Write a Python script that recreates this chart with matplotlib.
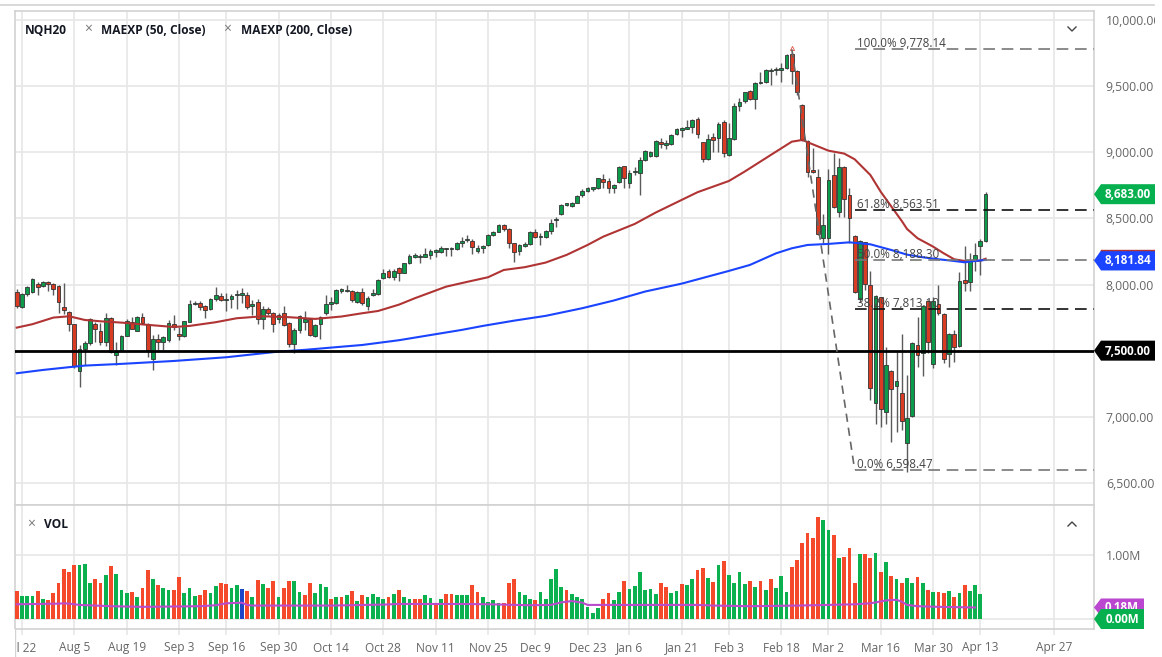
# -*- coding: utf-8 -*-
import matplotlib
matplotlib.use("Agg")
import matplotlib.pyplot as plt
from matplotlib.patches import Polygon, Rectangle
from matplotlib.lines import Line2D
from matplotlib.transforms import IdentityTransform

W, H = 1162, 657

# daily candles, Jul 19 .. Apr 14
opens = [
 7946,7828,7926,7942,8002,7989,8017,8002,7989,7833,
 7795,7702,7349,7511,7556,7700,7652,7569,7745,7468,
 7506,7614,7715,7652,7755,7705,7435,7591,7564,7581,
 7702,7627,7611,7720,7851,7858,7836,7816,7889,7916,
 7881,7889,7919,7921,7921,7841,7866,7737,7818,7788,
 7737,7783,7712,7548,7657,7715,7737,7614,7700,7783,
 7853,7861,7952,7949,7952,7871,7947,7841,7921,7926,
 8047,8105,8055,8123,8090,8161,8211,8206,8211,8226,
 8249,8249,8267,8267,8267,8317,8335,8332,8257,8277,
 8299,8372,8400,8453,8423,8312,8257,8292,8307,8400,
 8357,8362,8405,8486,8531,8602,8594,8619,8675,8710,
 8723,8728,8798,8783,8728,8773,8894,8771,8849,8841,
 8942,8975,8975,9081,9058,9060,9136,9169,9179,9189,
 9249,9075,8947,9116,9106,9227,8980,9098,9353,9385,
 9461,9400,9521,9531,9612,9620,9625,9640,9743,9615,
 9358,9088,8866,8811,8349,8349,8828,8551,8886,8674,
 8367,7888,8319,7996,7102,7903,7034,7344,7233,7177,
 6799,7006,7543,7480,7878,7396,7853,7774,7472,7626,
 7535,8034,8016,8193,8291,8332]
highs = [
 7964,7939,7989,8047,8022,8030,8027,8010,7997,8010,
 7803,7702,7543,7574,7745,7720,7707,7788,7753,7569,
 7619,7737,7753,7763,7783,7712,7619,7627,7611,7732,
 7770,7682,7727,7884,7879,7879,7846,7896,7979,7934,
 7934,7929,7959,7972,7947,7884,7889,7838,7833,7795,
 7783,7838,7720,7669,7770,7803,7745,7702,7763,7921,
 7904,7964,7972,7997,7959,7954,7972,7914,7964,8040,
 8115,8115,8115,8136,8166,8231,8236,8231,8274,8267,
 8267,8292,8274,8282,8322,8362,8375,8342,8299,8299,
 8380,8408,8458,8458,8428,8317,8307,8320,8405,8418,
 8388,8413,8493,8514,8609,8619,8627,8677,8720,8735,
 8735,8808,8836,8803,8758,8897,8899,8866,8887,8962,
 9018,9013,9093,9106,9093,9136,9181,9189,9244,9252,
 9264,9080,9136,9148,9232,9244,9219,9370,9408,9458,
 9471,9534,9605,9627,9640,9647,9678,9743,9758,9622,
 9363,9093,9030,8871,8533,8871,8992,8954,8896,8727,
 8374,8336,8324,8105,7921,7908,7530,7354,7492,7626,
 7316,7568,7757,7845,7883,7908,7996,7782,7631,7656,
 8097,8294,8241,8311,8341,8702]
lows = [
 7821,7826,7914,7934,7921,7979,7954,7921,7783,7775,
 7652,7367,7228,7392,7543,7569,7543,7536,7480,7392,
 7501,7611,7662,7649,7702,7450,7354,7506,7506,7569,
 7657,7581,7606,7715,7843,7808,7745,7808,7879,7879,
 7803,7821,7813,7863,7813,7770,7702,7664,7770,7644,
 7712,7690,7526,7480,7637,7657,7611,7601,7586,7770,
 7808,7853,7939,7942,7871,7863,7848,7808,7914,7921,
 8042,8047,8035,8030,8085,8156,8199,8161,8206,8191,
 8211,8241,8216,8219,8262,8287,8320,8231,8241,8236,
 8294,8367,8395,8408,8274,8171,8224,8282,8302,8350,
 8299,8352,8383,8438,8526,8594,8589,8614,8665,8703,
 8708,8723,8728,8695,8695,8768,8733,8728,8829,8677,
 8934,8967,8967,9030,9023,9055,9131,9118,9174,9149,
 9106,8929,8942,9005,9005,8962,8975,9093,9315,9370,
 9395,9327,9516,9521,9511,9584,9529,9632,9516,9433,
 9088,8811,8846,8375,8312,8231,8576,8513,8508,8312,
 7933,7870,7958,7127,6943,6925,6945,6812,6887,6900,
 6585,7001,7379,7311,7480,7366,7769,7404,7379,7417,
 7530,7951,7951,8105,8072,8319]
closes = [
 7841,7926,7984,8040,7979,8017,8002,7964,7866,7808,
 7702,7385,7511,7556,7737,7662,7569,7745,7488,7488,
 7611,7725,7667,7753,7712,7506,7589,7564,7601,7712,
 7682,7614,7722,7853,7858,7828,7811,7889,7921,7884,
 7886,7911,7924,7924,7828,7851,7737,7818,7788,7700,
 7768,7695,7548,7657,7765,7737,7619,7697,7758,7856,
 7861,7959,7957,7954,7884,7947,7858,7899,7929,8035,
 8090,8055,8105,8090,8161,8216,8221,8211,8231,8257,
 8254,8274,8272,8272,8317,8332,8340,8287,8274,8282,
 8375,8398,8453,8418,8312,8249,8297,8307,8400,8357,
 8362,8405,8463,8493,8604,8609,8619,8672,8710,8728,
 8728,8803,8778,8730,8750,8892,8806,8846,8854,8942,
 9008,9005,9086,9060,9063,9131,9174,9174,9194,9247,
 9138,8952,9103,9093,9214,8992,9111,9353,9378,9453,
 9405,9526,9526,9622,9617,9625,9630,9733,9617,9453,
 9093,8853,8851,8382,8450,8790,8584,8891,8647,8501,
 7946,8329,8001,7215,7913,7056,7391,7207,7273,6971,
 6988,7555,7467,7837,7568,7878,7782,7439,7626,7525,
 8029,8011,8185,8226,8329,8682]

volumes = [
 .44,.36,.36,.36,.44,.32,.30,.40,.56,.78,
 .74,.85,.85,.86,.56,.63,.56,.68,.83,.71,
 .45,.40,.42,.35,.49,.77,.63,.53,.48,.45,
 .45,.65,.40,.48,.36,.38,.46,.40,.51,.56,
 .54,.48,.53,.47,.43,.35,.61,.55,.49,.60,
 .34,.48,.59,.59,.42,.38,.56,.41,.54,.50,
 .31,.35,.35,.37,.44,.28,.38,.35,.39,.35,
 .31,.35,.39,.45,.35,.32,.31,.31,.37,.33,
 .22,.32,.39,.39,.37,.37,.375,.53,.42,.35,
 .26,.29,.245,.245,.56,.62,.42,.375,.31,.30,
 .42,.32,.625,.78,.505,.46,.39,.35,.31,.19,
 .10,.17,.32,.41,.29,.42,.60,.47,.515,.73,
 .46,.47,.385,.56,.50,.40,.44,.54,.525,.62,
 .76,.80,.635,.58,.85,.90,.69,.57,.73,.55,
 .59,.50,.59,.46,.62,.49,.67,.42,.81,.92,
 1.18,1.35,1.26,1.59,1.54,1.385,1.31,.95,.97,1.11,
 .57,1.01,1.01,.95,1.03,.73,.885,.67,.63,.56,
 .635,.56,.66,.57,.45,.42,.42,.41,.44,.35,
 .40,.53,.43,.525,.385]
vol_colors = ("rgggrgrrrr" "rrgggrrgrg" "ggrgrrgrgg" "rrgggrrggr" "rggbrgrgrr"
              "grrggrrggg" "rgrgrgrggg" "grgrggrrgg" "rgrrgggrrg" "gggrrrgggr"
              "gggggrgggg" "ggrrggrggg" "gggrrggrgg" "rrgrgrgggg" "rgrgrgggrr"
              "rrrrggrgrr" "rgrrgrgrgr" "ggrgrgrrgr" "grggg")

vol_ma_idx = [0,8,9,10,12,18,24,35,38,40,43,44,45,60,70,73,85,90,98,102,104,106,108,109,
              120,130,133,140,149,155,160,163,166,168,169,170,172,176,183]
vol_ma = [.23,.24,.245,.24,.22,.20,.19,.20,.215,.245,.255,.22,.21,.21,.225,.235,.235,.23,.215,.22,.26,.28,.255,.22,
          .22,.22,.21,.20,.21,.22,.23,.245,.29,.30,.27,.22,.20,.19,.18]

ma50_idx = [0,3,5,7,10,13,16,20,25,30,33,38,42,47,52,57,62,66,69,73,76,82,86,90,93,97,101,105,109,112,
            118,122,130,136,139,145,148,150,152,155,158,160,163,165,167,169,170,172,175,177,179,181,184,185]
ma50 = [7674,7700,7725,7750,7760,7732,7722,7712,7695,7679,7687,7715,7745,7760,7753,7740,7758,7783,7800,7848,
        7896,7984,8020,8055,8110,8131,8166,8224,8299,8362,8458,8544,8698,8783,8854,9005,9080,9093,9060,9012,
        8990,8947,8828,8700,8590,8480,8420,8350,8286,8236,8191,8178,8180,8195]
ma200_idx = [0,5,10,13,20,30,40,50,55,60,66,73,85,89,95,101,108,114,120,127,136,140,145,148,151,155,159,
             163,167,170,173,176,179,181,183,185]
ma200 = [7329,7354,7375,7387,7400,7422,7450,7493,7506,7523,7543,7579,7657,7687,7727,7763,7821,7879,7947,8007,
         8103,8148,8236,8274,8299,8307,8319,8304,8261,8226,8206,8191,8178,8168,8178,8186]

price_ticks = [6500,7000,7500,8000,8500,9000,9500,10000]
date_idx = [1,11,21,31,40,50,60,70,80,90,99,109,117,127,136,146,155,165,175,184,198]
date_labels = ["Jul 22","Aug 5","Aug 19","Sep 3","Sep 16","Sep 30","Oct 14","Oct 28","Nov 11","Nov 25",
               "Dec 9","Dec 23","Jan 6","Jan 21","Feb 3","Feb 18","Mar 2","Mar 16","Mar 30","Apr 13","Apr 27"]
fib_levels = [9778.14,8563.51,8188.30,7813.10,6598.47]
fib_names = ["100.0% 9,778.14","61.8% 8,563.51","50.0% 8,188.30","38.2% 7,813.10","0.0% 6,598.47"]
fib_cols = ["#777777","#111111","#777777","#111111","#777777"]

GREEN, RED, BLUE = "#0b9b4b", "#d93c22", "#1a44ff"
VGREEN, VRED = "#0bb04f", "#f5492b"
GRID = "#e8e8e8"; EDGE = "#d2d2d2"; TXT = "#666666"

plt.rcParams["font.family"] = ["Open Sans", "DejaVu Sans"]
fig = plt.figure(figsize=(W/100, H/100), dpi=100, facecolor="white")

def box(x0, y0, x1, y1):
    return [x0/W, (H-y1)/H, (x1-x0)/W, (y1-y0)/H]

ax = fig.add_axes(box(15, 11, 1094, 505))
ax2 = fig.add_axes(box(15, 505, 1094, 629), sharex=ax)
ax.set_xlim(-0.325, 205.7)
ax.set_ylim(6333, 10068)
ax2.set_ylim(-0.156, 1.78)

for a in (ax, ax2):
    a.set_axisbelow(True)
    a.grid(True, color=GRID, lw=1.3)
    for s in a.spines.values():
        s.set_color(EDGE); s.set_linewidth(1.2)
    a.yaxis.tick_right()
    a.tick_params(axis="y", length=0, pad=8.5, labelsize=8.8, labelcolor=TXT)

ax.set_yticks(price_ticks)
# 7,500 is shown by its tag only
ax.set_yticklabels(["" if p == 7500 else f"{p:,.2f}" for p in price_ticks])
ax.tick_params(axis="x", length=0, labelbottom=False)
ax2.set_xticks(date_idx)
ax2.set_xticklabels(date_labels)
ax2.tick_params(axis="x", length=4, width=1.2, color=GRID, pad=5, labelsize=8.6, labelcolor=TXT)
ax2.set_yticks([0, 1.0])
ax2.set_yticklabels(["", "1.00M"])

# candles
idx = list(range(len(opens)))
ax.vlines(idx, lows, highs, color="#5a5a5a", lw=1.0, zorder=3)
cols = [GREEN if c >= o else RED for o, c in zip(opens, closes)]
bottoms = [min(o, c) for o, c in zip(opens, closes)]
heights = [max(abs(c-o), 12) for o, c in zip(opens, closes)]
ax.bar(idx, heights, bottom=bottoms, width=0.72, color=cols, edgecolor="#333333", lw=0.6, zorder=4)
ax.plot(ma50_idx, ma50, color="#b03434", lw=1.5, zorder=5)
ax.plot(ma200_idx, ma200, color=BLUE, lw=1.5, zorder=5)
ax.axhline(7500, color="black", lw=2.0, zorder=6)
ax.plot([148], [9788], marker="^", ms=3, mfc="none", mec="#e05040", mew=0.6, zorder=6)

# fibonacci retracement
for lev, name, c in zip(fib_levels, fib_names, fib_cols):
    ax.plot([160, 205.7], [lev, lev], color=c, lw=1.2, dashes=(7, 4), zorder=6)
    ax.text(160.5, lev+15, name, fontsize=8.4, color="#444444", va="baseline", zorder=7)
ax.plot([148, 160], [fib_levels[0], fib_levels[-1]], color="#666666", lw=1.2, dashes=(5, 3.5), zorder=6)

# volume
vmap = {"r": VRED, "g": VGREEN, "b": "#1d45c8"}
ax2.bar(range(len(volumes)), volumes, width=0.72, color=[vmap[c] for c in vol_colors], lw=0, zorder=3)
ax2.plot(vol_ma_idx, vol_ma, color="#b94bcc", lw=1.5, zorder=4)

# legend row
tkw = dict(transform=IdentityTransform(), va="center", color="#131722", fontweight="bold", fontsize=8.6, zorder=20)
def ptxt(x, y, s, **kw):
    d = dict(tkw); d.update(kw)
    fig.text(x, H-y, s, **d)
ptxt(25, 30, "NQH20")
ptxt(101, 30, "MAEXP (50, Close)")
ptxt(241, 30, "MAEXP (200, Close)")
ptxt(44, 525, "VOL")
for xx, yy in [(88, 29), (227, 29), (31, 524)]:
    ptxt(xx, yy, "×", color="#777777", fontweight="normal", fontsize=10, ha="center")

def pline(xs, ys, c="#444444", lw=1.0, z=20):
    fig.add_artist(Line2D(xs, [H-y for y in ys], color=c, lw=lw, transform=IdentityTransform(), zorder=z))
pline([1068, 1072, 1076], [27, 31, 27])
pline([1068, 1072, 1076], [526, 522, 526])
pline([0, 1154], [5, 5], c=EDGE, lw=1.2)
pline([15, 15], [629, 657], c=EDGE, lw=1.0)

# price tags on the right axis, later tags sit on top of earlier ones
def tag(a, val, label, col, z, right=1155, half=10, cx=1128, top=None):
    yc = a.transData.transform((0, val))[1]
    pts = [(1094, yc), (1101, yc+half), (right, yc+half), (right, yc-half), (1101, yc-half)]
    fig.add_artist(Polygon(pts, closed=True, fc=col, ec="none", transform=IdentityTransform(), zorder=z))
    if top:
        fig.add_artist(Line2D([1101, right], [yc+half+0.3]*2, color=top, lw=1.0, transform=IdentityTransform(), zorder=z))
    fig.text(cx, yc-0.5, label, color="white", fontweight="bold", fontsize=8.4, ha="center", va="center",
             transform=IdentityTransform(), zorder=z+0.5)

tag(ax, 8683, "8,683.00", "#06b04f", 21)
tag(ax, 8181.84, "8,181.84", BLUE, 22, top="#b03434")
tag(ax, 7500, "7,500.00", "black", 23)
tag(ax2, 0.18, "0.18M", "#bb47d0", 24, right=1144, half=9, cx=1122)
tag(ax2, 0.0, "0.00M", "#06b04f", 25, right=1144, half=10, cx=1122)

# page edges cut the labels
fig.add_artist(Rectangle((1155, 0), 7, H, fc="white", ec="none", transform=IdentityTransform(), zorder=30))
fig.add_artist(Rectangle((0, 0), 14.5, H-629, fc="white", ec="none", transform=IdentityTransform(), zorder=30))

fig.savefig("out.png", dpi=100)
